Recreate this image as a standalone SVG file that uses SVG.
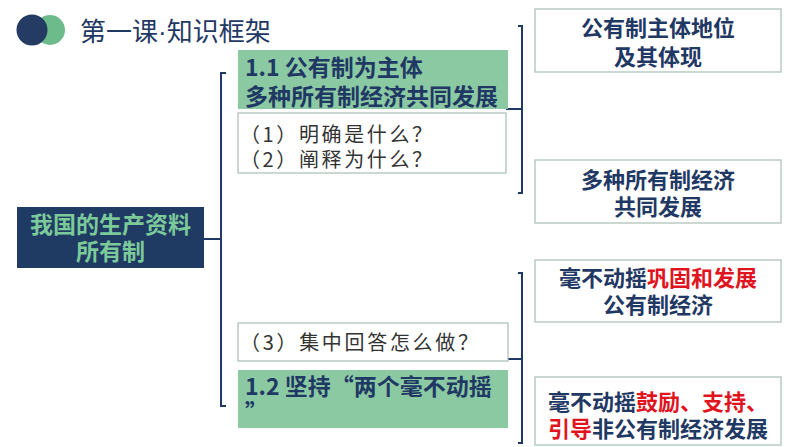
<svg xmlns="http://www.w3.org/2000/svg" width="794" height="447" viewBox="0 0 794 447">
<style>
.b{font-family:"Noto Sans CJK SC","Liberation Sans",sans-serif;font-weight:bold;font-size:22px;fill:#1f3864;text-anchor:middle}
.s{font-family:"Noto Sans CJK SC",serif;font-size:20px;fill:#333;}
.red{fill:#e0141e}
.wbox{fill:#fff;stroke:#a9bdb2;stroke-width:1.2}
.gbox{fill:#8bc9a3}
.c{fill:none;stroke:#1f3864;stroke-width:2}
</style>
<rect width="794" height="447" fill="#fff"/>
<g id="title">
<circle cx="50" cy="30" r="15" fill="#6dbb8a"/>
<circle cx="32" cy="30" r="15.5" fill="#243b63"/>
<text x="80" y="41" font-family="Noto Sans CJK SC,sans-serif" font-size="26" fill="#1f3864">第一课<tspan font-family="Liberation Sans,sans-serif">·</tspan>知识框架</text>
</g>
<g id="connectors">
<path class="c" d="M204 239H221M226 73H221V406H226"/>
<path class="c" d="M506 109H522M518 26H522V193H518"/>
<path class="c" d="M508 359H522M518 273H522V443H518"/>
</g>
<g id="root">
<rect x="17" y="207" width="187" height="61" fill="#1f3a63"/>
<text class="b" x="110.5" y="233" style="fill:#7cc99a;font-size:23px">我国的生产资料</text>
<text class="b" x="110.5" y="260" style="fill:#7cc99a;font-size:23px">所有制</text>
</g>
<g id="n11">
<rect class="gbox" x="238" y="50" width="270" height="59"/>
<text class="b" x="245" y="76" style="text-anchor:start;font-size:23px">1.1 公有制为主体</text>
<text class="b" x="245" y="105" style="text-anchor:start;font-size:23px">多种所有制经济共同发展</text>
</g>
<g id="q12">
<rect class="wbox" x="238" y="113" width="268" height="60"/>
<text class="s" x="240" y="142" textLength="192" lengthAdjust="spacing">（1）明确是什么？</text>
<text class="s" x="240" y="167" textLength="192" lengthAdjust="spacing">（2）阐释为什么？</text>
</g>
<g id="q3">
<rect class="wbox" x="238" y="323" width="270" height="38"/>
<text class="s" x="240" y="350" textLength="238" lengthAdjust="spacing">（3）集中回答怎么做？</text>
</g>
<g id="n12">
<rect class="gbox" x="238" y="370" width="270" height="58"/>
<text class="b" x="245" y="395" style="text-anchor:start;font-size:23px">1.2 坚持“两个毫不动摇</text>
<text class="b" x="245" y="421" style="text-anchor:start;font-size:23px">”</text>
</g>
<g id="r1">
<rect class="wbox" x="535" y="9" width="246" height="63"/>
<text class="b" x="658" y="36">公有制主体地位</text>
<text class="b" x="658" y="65">及其体现</text>
</g>
<g id="r2">
<rect class="wbox" x="535" y="160" width="246" height="63"/>
<text class="b" x="658" y="188">多种所有制经济</text>
<text class="b" x="658" y="215">共同发展</text>
</g>
<g id="r3">
<rect class="wbox" x="535" y="260" width="246" height="62"/>
<text class="b" x="658" y="286">毫不动摇<tspan class="red">巩固和发展</tspan></text>
<text class="b" x="658" y="313">公有制经济</text>
</g>
<g id="r4">
<rect class="wbox" x="535" y="377" width="246" height="68"/>
<text class="b" x="658" y="410">毫不动摇<tspan class="red">鼓励、支持、</tspan></text>
<text class="b" x="658" y="437"><tspan class="red">引导</tspan>非公有制经济发展</text>
</g>
</svg>
